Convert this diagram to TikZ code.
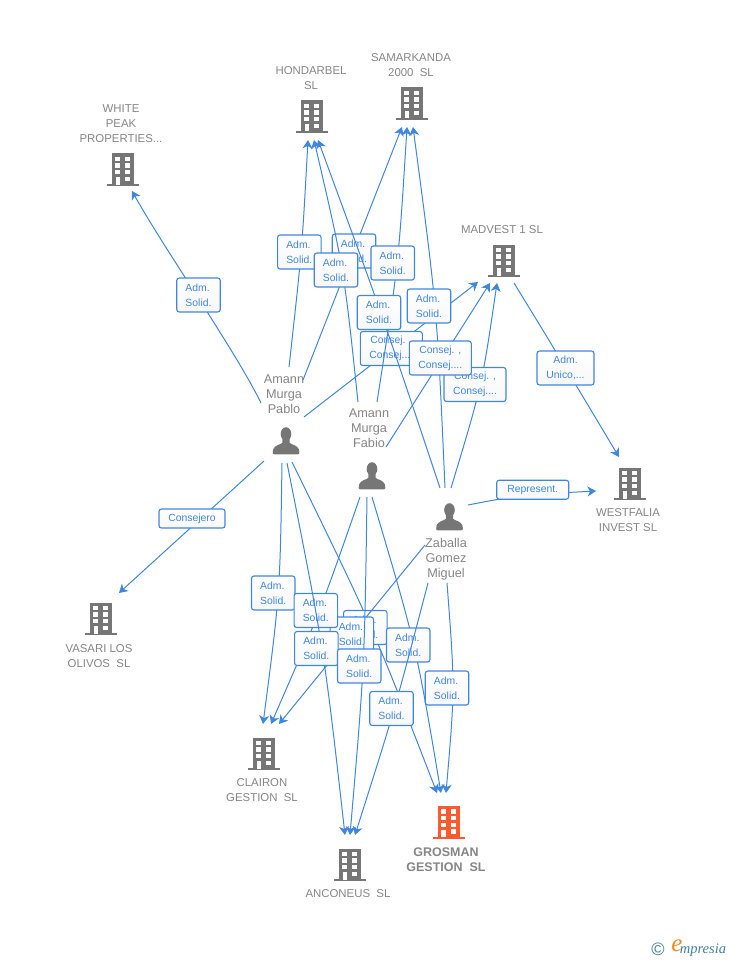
\documentclass[tikz,border=0pt]{standalone}
\usepackage{fontspec}
\setmainfont{Liberation Sans}
\newfontfamily\logofont{Liberation Serif}
\usetikzlibrary{arrows.meta}
\definecolor{linkBlue}{HTML}{3F86E2}
\definecolor{textGray}{HTML}{858585}
\definecolor{iconGray}{HTML}{767676}
\definecolor{iconOrange}{HTML}{FF5A2B}
\definecolor{logoTeal}{HTML}{3F7F9E}
\definecolor{logoOrange}{HTML}{F58A1F}
\tikzset{
    link/.style={draw=linkBlue, line width=1pt, -{Stealth[length=8.5pt,width=10pt,inset=2.5pt]}},
    linkbox/.style={draw=linkBlue, line width=1.1pt, rounded corners=2.5pt, top color=white, bottom color=black!3,
        text=linkBlue, align=left, inner sep=0pt, minimum width=43.5pt, minimum height=34pt,
        font=\fontsize{10.4}{15}\selectfont},
    consejbox/.style={linkbox, align=center, minimum width=62pt},
    shortbox/.style={linkbox, align=center, minimum height=19pt},
    cotext/.style={text=textGray, align=center, inner sep=0pt, yshift=-1pt, font=\fontsize{11.4}{15}\selectfont},
    pertext/.style={text=textGray, align=center, inner sep=0pt, yshift=-0.4pt, font=\fontsize{12.7}{15}\selectfont},
    iconbox/.style={inner sep=0pt, minimum width=32pt, minimum height=34pt},
    bldgicon/.pic={
        \fill[#1] (-11,-15.5) rectangle (11,15.5);
        \fill[#1] (-16,15) rectangle (16,17.3);
        \foreach \xx in {-5.2,4.8}
            \foreach \yy in {-10,-3.4,3.2}
                \fill[white] (\xx-2.5,\yy-2.2) rectangle ++(5,4.4);
        \fill[white] (2.3,7.6) rectangle ++(5,4.4);
        \fill[white] (-7.4,8) rectangle (-3,15.5);
    },
    personicon/.pic={
        \fill[iconGray] (0,-7) ellipse (5.3 and 6.8);
        \fill[iconGray] (-13.3,11) .. controls (-13.3,6.5) and (-10,4.5) .. (-5.5,3) .. controls (-3.5,2.3) .. (-3.5,-2)
            -- (3.5,-2) .. controls (3.5,2.3) .. (5.5,3) .. controls (10,4.5) and (13.3,6.5) .. (13.3,11)
            .. controls (13.3,13.3) .. (11.5,13.3) -- (-11.5,13.3) .. controls (-13.3,13.3) .. (-13.3,11) -- cycle;
    },
}
\newcommand{\bldg}[3][iconGray]{\node[iconbox] (#2) at (#3) {}; \pic at (#2) {bldgicon=#1};}
\newcommand{\persona}[2]{\node[iconbox] (#1) at (#2) {}; \pic at (#1) {personicon};}
\begin{document}
\begin{tikzpicture}[x=1pt,y=-1pt]
    \useasboundingbox (0,0) rectangle (728,960);

    % companies
    \bldg{whitepeak}{123,169}
    \bldg{hondarbel}{312,116}
    \bldg{samarkanda}{412,103}
    \bldg{madvest}{504,260}
    \bldg{westfalia}{630,483}
    \bldg{vasari}{101,618}
    \bldg{clairon}{264,753}
    \bldg{anconeus}{350,864}
    \bldg[iconOrange]{grosman}{448.5,821.5}
    \node[cotext] (whitepeaktxt) at (121,123) {WHITE\\PEAK\\PROPERTIES...};
    \node[cotext] (hondarbeltxt) at (311,77.5) {HONDARBEL\\SL};
    \node[cotext] (samarkandatxt) at (411,64.5) {SAMARKANDA\\2000~~SL};
    \node[cotext] (madvesttxt) at (502,229) {MADVEST 1 SL};
    \node[cotext] (westfaliatxt) at (628,519.5) {WESTFALIA\\INVEST SL};
    \node[cotext] (vasaritxt) at (99,655.5) {VASARI LOS\\OLIVOS~~SL};
    \node[cotext] (clairontxt) at (262,789.5) {CLAIRON\\GESTION~~SL};
    \node[cotext] (anconeustxt) at (348,893) {ANCONEUS~~SL};
    \node[cotext, font=\fontsize{12.5}{15}\selectfont\bfseries] (grosmantxt) at (446,858.5) {GROSMAN\\GESTION~~SL};

    % people
    \persona{pablo}{286,441}
    \persona{fabio}{372,476}
    \persona{zaballa}{449.5,517}
    \node[pertext] (pablotxt) at (284,394) {Amann\\Murga\\Pablo};
    \node[pertext] (fabiotxt) at (369,428) {Amann\\Murga\\Fabio};
    \node[pertext] (zaballatxt) at (446,559) {Zaballa\\Gomez\\Miguel};

    % upper links, back to front
    \draw[link] (198.5,295) node[linkbox] (admwhite) {Adm.\\Solid.}
        ([shift={(-25,-38)}]pablo.center) .. controls (235,350) and (165,250) .. ([shift={(9,22)}]whitepeak.center);
    \draw[link] (299.3,252) node[linkbox] (admhondA) {Adm.\\Solid.}
        ([shift={(3,-74)}]pablo.center) .. controls (302,250) .. ([shift={(-4,24)}]hondarbel.center);
    \draw[link] (354,251) node[linkbox] (admsamA) {Adm.\\Solid.}
        ([shift={(17,-61)}]pablo.center) -- ([shift={(-10,24)}]samarkanda.center);
    \draw[link] (391.3,348.5) node[consejbox] (conmadA) {Consej. ,\\Consej....}
        ([shift={(18,-24)}]pablo.center) -- ([shift={(-26,22)}]madvest.center);
    \draw[link] (336,270) node[linkbox] (admhondB) {Adm.\\Solid.}
        ([shift={(-14,-74)}]fabio.center) .. controls (344,269) .. ([shift={(2,24)}]hondarbel.center);
    \draw[link] (392.7,263) node[linkbox] (admsamB) {Adm.\\Solid.}
        ([shift={(5,-74)}]fabio.center) .. controls (398.5,264.5) .. ([shift={(-5,24)}]samarkanda.center);
    \draw[link] (379,312.5) node[linkbox] (admhondC) {Adm.\\Solid.}
        ([shift={(-9.5,-29)}]zaballa.center) .. controls (382,314) .. ([shift={(6,24)}]hondarbel.center);
    \draw[link] (429,306) node[linkbox] (admsamC) {Adm.\\Solid.}
        ([shift={(-4.5,-29)}]zaballa.center) .. controls (437,307.5) .. ([shift={(1,24)}]samarkanda.center);
    \draw[link] (475,384.5) node[consejbox] (conmadC) {Consej. ,\\Consej....}
        ([shift={(1.5,-29)}]zaballa.center) .. controls (482,385.5) .. ([shift={(-7,23)}]madvest.center);
    \draw[link] (440.3,358) node[consejbox] (conmadB) {Consej. ,\\Consej....}
        ([shift={(14,-29)}]fabio.center) -- ([shift={(-14,23)}]madvest.center);

    % right hand side
    \draw[link] (565.5,368) node[linkbox, align=center, minimum width=57pt] (unicowest) {Adm.\\Unico,...}
        ([shift={(10,23)}]madvest.center) .. controls (552,345) .. ([shift={(-11,-26)}]westfalia.center);
    \draw[link] (532.7,489.7) node[shortbox, minimum width=72pt] (repwest) {Represent.}
        ([shift={(18.5,-12)}]zaballa.center) .. controls (520,495) .. ([shift={(-34,8)}]westfalia.center);
    \draw[link] (192,518.5) node[shortbox, minimum width=66pt] (convasari) {Consejero}
        ([shift={(-22,20)}]pablo.center) -- ([shift={(18,-25)}]vasari.center);

    % lower links, back to front
    \draw[link] (273.2,593) node[linkbox] (admclaA) {Adm.\\Solid.}
        ([shift={(-4,22)}]pablo.center) .. controls (280,593.5) .. ([shift={(-1,-29)}]clairon.center);
    \draw[link] (365.3,627.5) node[linkbox] (admgroA) {Adm.\\Solid.}
        ([shift={(6,21)}]pablo.center) .. controls (373,627.5) .. ([shift={(-11.5,-28.5)}]grosman.center);
    \draw[link] (351.8,634) node[linkbox] (admclaC) {Adm.\\Solid.}
        ([shift={(-24.5,28)}]zaballa.center) -- ([shift={(15,-29)}]clairon.center);
    \draw[link] (315.8,610.5) node[linkbox] (admclaB) {Adm.\\Solid.}
        ([shift={(-12,21)}]fabio.center) .. controls (320.5,610.5) .. ([shift={(7,-29)}]clairon.center);
    \draw[link] (316.3,648.5) node[linkbox] (admancA) {Adm.\\Solid.}
        ([shift={(1,22)}]pablo.center) .. controls (324,649) .. ([shift={(-5,-29)}]anconeus.center);
    \draw[link] (359.2,666) node[linkbox] (admancB) {Adm.\\Solid.}
        ([shift={(-5,21)}]fabio.center) .. controls (364.5,666) .. ([shift={(0,-29)}]anconeus.center);
    \draw[link] (408.2,645) node[linkbox] (admgroB) {Adm.\\Solid.}
        ([shift={(0,21)}]fabio.center) .. controls (416,645) .. ([shift={(-7.5,-28.5)}]grosman.center);
    \draw[link] (391.5,708.5) node[linkbox] (admancC) {Adm.\\Solid.}
        ([shift={(-21.5,66)}]zaballa.center) .. controls (395,709) .. ([shift={(5,-29)}]anconeus.center);
    \draw[link] (447,688) node[linkbox] (admgroC) {Adm.\\Solid.}
        ([shift={(-2.5,66)}]zaballa.center) .. controls (455,688) .. ([shift={(-2.5,-28.5)}]grosman.center);

    % logo
    \node[text=logoTeal, inner sep=0pt, font=\fontsize{18}{18}\selectfont] (logoc) at (658,949.5) {©};
    \node[text=logoOrange, inner sep=0pt, font=\logofont\itshape\fontsize{25}{25}\selectfont] (logoe) at (677,946) {e};
    \node[text=logoTeal, inner sep=0pt, font=\logofont\itshape\fontsize{14.5}{14}\selectfont] (logotxt) at (703,950) {mpresia};
\end{tikzpicture}
\end{document}
